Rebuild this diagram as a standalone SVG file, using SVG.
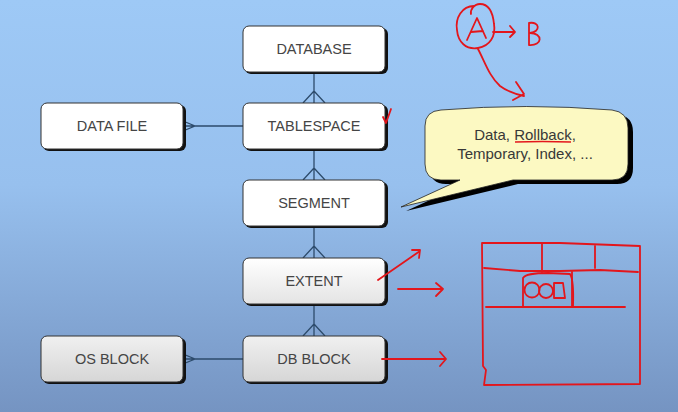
<svg xmlns="http://www.w3.org/2000/svg" width="678" height="412" viewBox="0 0 678 412">
<defs>
<linearGradient id="bg" x1="0" y1="0" x2="0" y2="1">
<stop offset="0" stop-color="#9ec9f6"/>
<stop offset="0.45" stop-color="#97c0ee"/>
<stop offset="1" stop-color="#7594c2"/>
</linearGradient>
<linearGradient id="grey" x1="0" y1="0" x2="0" y2="1">
<stop offset="0" stop-color="#f0f0f0"/>
<stop offset="1" stop-color="#d6d6d6"/>
</linearGradient>
<linearGradient id="lgrey" x1="0" y1="0" x2="0" y2="1">
<stop offset="0" stop-color="#ffffff"/>
<stop offset="1" stop-color="#e4e4e4"/>
</linearGradient>
</defs>
<style>
.sh{fill:#111;}
.bx{stroke:#333;stroke-width:1;}
.w{fill:#ffffff;}
.g{fill:url(#grey);}
.lg{fill:url(#lgrey);}
.t{font-family:"Liberation Sans",Arial,sans-serif;font-size:14.5px;fill:#454545;text-anchor:middle;}
.c{stroke:#2d4b6b;stroke-width:1.3;fill:none;}
.r{stroke:#e3161c;stroke-width:1.8;fill:none;stroke-linecap:round;stroke-linejoin:round;}
.ct{font-family:"Liberation Sans",Arial,sans-serif;font-size:15px;fill:#383838;text-anchor:middle;}
</style>
<rect x="0" y="0" width="678" height="412" fill="url(#bg)"/>

<g id="connectors">
<path class="c" d="M314,72 V103 M303,103 L314,91 L325,103"/>
<path class="c" d="M314,149 V180 M303,180 L314,168 L325,180"/>
<path class="c" d="M314,226 V258 M303,258 L314,246 L325,258"/>
<path class="c" d="M314,304 V336 M303,336 L314,324 L325,336"/>
<path class="c" d="M183,126 H243 M183,121 L195,126 L183,131"/>
<path class="c" d="M183,359 H243 M183,354 L195,359 L183,364"/>
</g>

<g id="database">
<rect class="sh" x="245" y="28" width="143" height="46" rx="6"/>
<rect class="bx w" x="243" y="26" width="142" height="46" rx="6"/>
<text class="t" x="314" y="54">DATABASE</text>
</g>
<g id="tablespace">
<rect class="sh" x="245" y="105" width="143" height="46" rx="6"/>
<rect class="bx w" x="243" y="103" width="142" height="46" rx="6"/>
<text class="t" x="314" y="131">TABLESPACE</text>
</g>
<g id="datafile">
<rect class="sh" x="43" y="105" width="143" height="46" rx="6"/>
<rect class="bx w" x="41" y="103" width="142" height="46" rx="6"/>
<text class="t" x="112" y="131">DATA FILE</text>
</g>
<g id="segment">
<rect class="sh" x="245" y="182" width="143" height="46" rx="6"/>
<rect class="bx w" x="243" y="180" width="142" height="46" rx="6"/>
<text class="t" x="314" y="208">SEGMENT</text>
</g>
<g id="extent">
<rect class="sh" x="245" y="260" width="143" height="46" rx="6"/>
<rect class="bx lg" x="243" y="258" width="142" height="46" rx="6"/>
<text class="t" x="314" y="286">EXTENT</text>
</g>
<g id="osblock">
<rect class="sh" x="43" y="338" width="143" height="46" rx="6"/>
<rect class="bx g" x="41" y="336" width="142" height="46" rx="6"/>
<text class="t" x="112" y="364">OS BLOCK</text>
</g>
<g id="dbblock">
<rect class="sh" x="245" y="338" width="143" height="46" rx="6"/>
<rect class="bx g" x="243" y="336" width="142" height="46" rx="6"/>
<text class="t" x="314" y="364">DB BLOCK</text>
</g>

<g id="callout">
<path fill="#000" transform="translate(5,4)" d="M441,110 Q526,103 612,110 Q628,112 628,128 L628,164 Q628,180 612,180 L513,180 L401,207 L460,180 L441,180 Q425,180 425,164 L425,126 Q425,111 441,110 Z"/>
<path fill="#fcf9c2" stroke="#222" stroke-width="0.8" d="M441,110 Q526,103 612,110 Q628,112 628,128 L628,164 Q628,180 612,180 L513,180 L401,207 L460,180 L441,180 Q425,180 425,164 L425,126 Q425,111 441,110 Z"/>
<text class="ct" x="525" y="140">Data, Rollback,</text>
<text class="ct" x="525" y="159">Temporary, Index, ...</text>
<path d="M515,142 Q542,141 571,142" stroke="#e3161c" stroke-width="1.3" fill="none"/>
</g>

<g id="annotations">
<path class="r" d="M474,6 C462,6 455,18 457,30 C458,42 466,50 478,48 C490,46 496,36 494,24 C493,14 490,4 480,4 C474,4 470,10 471,14"/>
<path class="r" d="M467,40 L477,18 L486,38 M471,32 L483,31"/>
<path class="r" d="M493,32 L515,32 M510,26 L515,32 L510,37"/>
<path class="r" d="M529,23 L529,45 M529,23 C540,21 541,32 530,33 C543,33 543,46 529,45"/>
<path class="r" d="M478,49 C485,62 489,76 500,86 C508,92 515,94 524,96 M516,82 L524,94 L513,100"/>
<path class="r" d="M383,117 L386,123 L391,109"/>
<path class="r" d="M378,280 L420,251 M412,250 L420,250 L419,258"/>
<path class="r" d="M398,289 L443,289 M436,283 L443,289 L436,296"/>
<path class="r" d="M382,359 L446,359 M440,352 L446,359 L440,366"/>
<path class="r" d="M482,243 L560,243 L640,246 L640,384 L484,385 L486,370 L483,366 L482,243"/>
<path class="r" d="M542,244 L542,272 M595,246 L595,268"/>
<path class="r" d="M484,268 L520,271 L560,271 L600,270 L638,272"/>
<path class="r" d="M486,307 L625,307"/>
<path class="r" d="M523,306 L523,278 Q526,273 548,273 L570,274 Q574,280 573,306"/>
<path class="r" d="M572,272 L572,307"/>
<circle class="r" cx="532" cy="290" r="7.5"/>
<circle class="r" cx="546" cy="291" r="7"/>
<path class="r" d="M554,283 L563,283 L565,298 L554,298 Z"/>
</g>
</svg>
